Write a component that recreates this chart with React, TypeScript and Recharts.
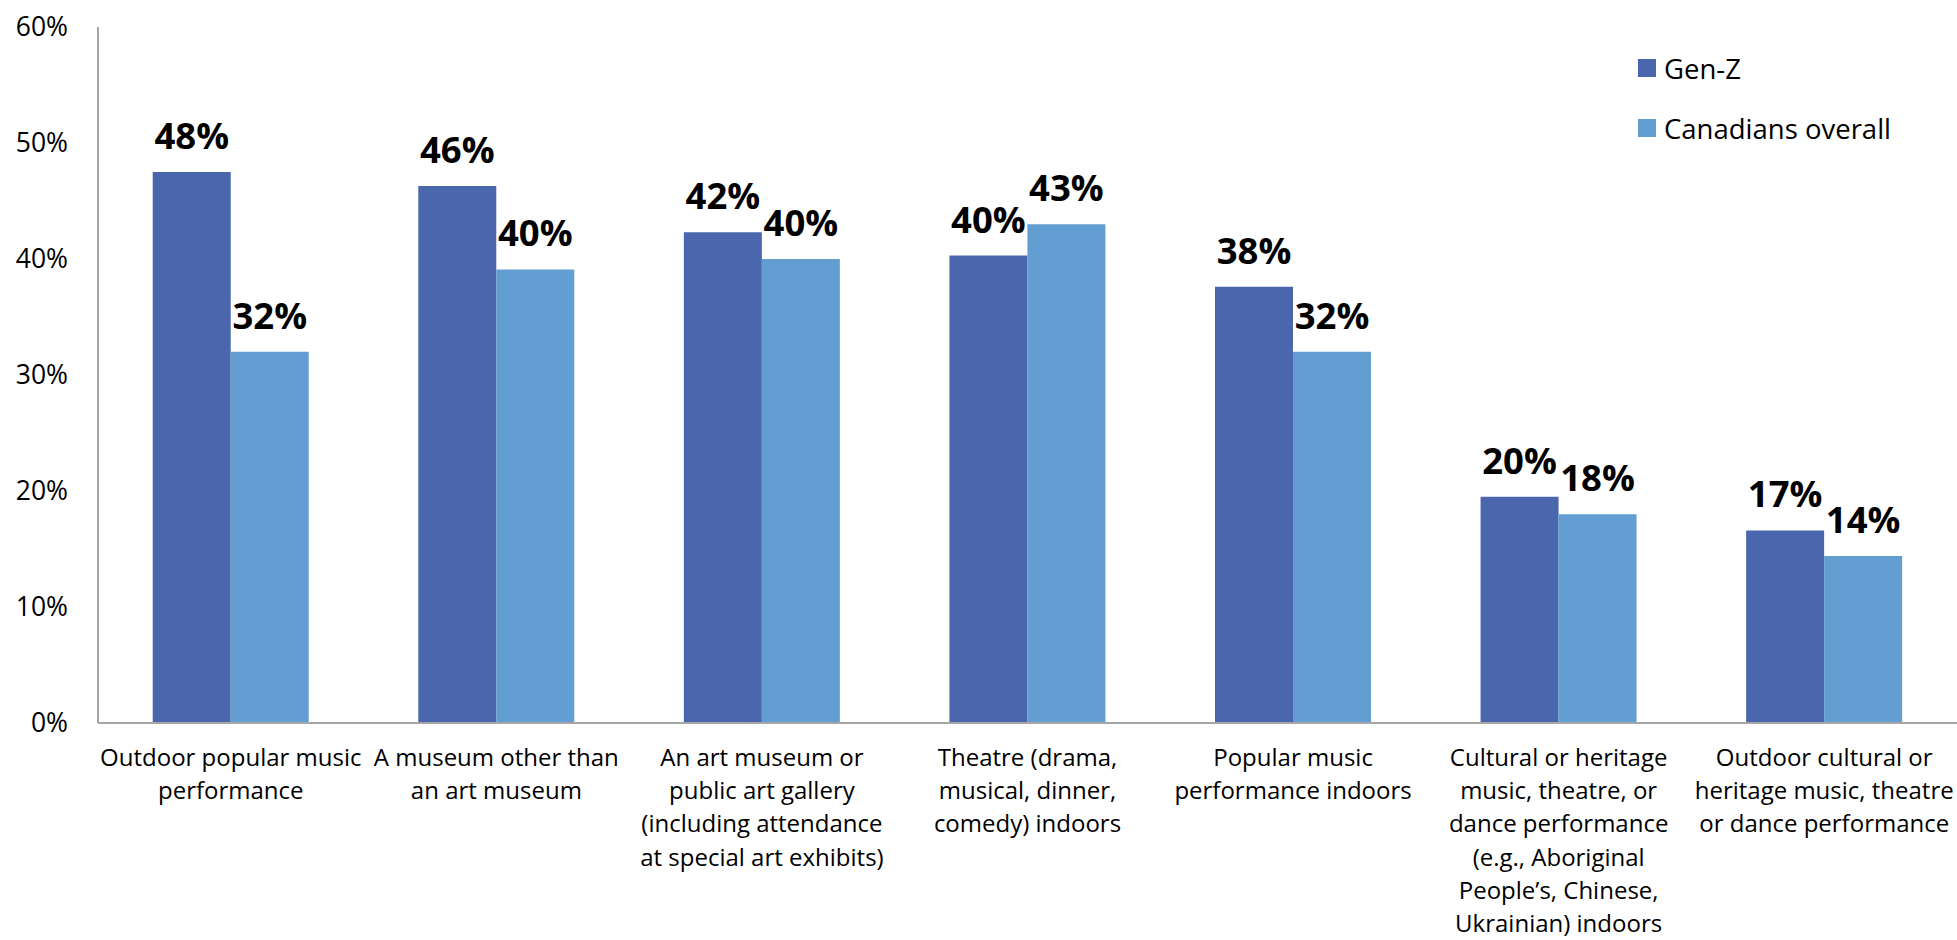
import { BarChart, Bar, XAxis, YAxis, LabelList, Legend } from 'recharts'

const categories = [
  'Outdoor popular music\nperformance',
  'A museum other than\nan art museum',
  'An art museum or\npublic art gallery\n(including attendance\nat special art exhibits)',
  'Theatre (drama,\nmusical, dinner,\ncomedy) indoors',
  'Popular music\nperformance indoors',
  'Cultural or heritage\nmusic, theatre, or\ndance performance\n(e.g., Aboriginal\nPeople’s, Chinese,\nUkrainian) indoors',
  'Outdoor cultural or\nheritage music, theatre\nor dance performance',
]

const seriesNames = ['Gen-Z', 'Canadians overall']
const genZ = [47.5, 46.3, 42.3, 40.3, 37.6, 19.5, 16.6]
const overall = [32.0, 39.1, 40.0, 43.0, 32.0, 18.0, 14.4]
const genZLabels = ['48%', '46%', '42%', '40%', '38%', '20%', '17%']
const overallLabels = ['32%', '40%', '40%', '43%', '32%', '18%', '14%']
const yTicks = [0, 10, 20, 30, 40, 50, 60]

const colors = ['#4A67AD', '#629ED2']
const font = '"Open Sans", "Noto Sans", sans-serif'

const data = categories.map((name, i) => ({
  name,
  genZ: genZ[i],
  overall: overall[i],
  genZLabel: genZLabels[i],
  overallLabel: overallLabels[i],
}))

function CategoryTick(props: { x?: number; y?: number; payload?: { value: string } }) {
  const { x = 0, y = 0, payload } = props
  const lines = (payload?.value ?? '').split('\n')
  return (
    <text x={x} y={y} textAnchor="middle" fontSize={24} fill="#000" fontFamily={font}>
      {lines.map((line, i) => (
        <tspan key={i} x={x} y={y + 43 + i * 33.2}>
          {line}
        </tspan>
      ))}
    </text>
  )
}

function LegendBox() {
  return (
    <div style={{ fontFamily: font, fontSize: 27.5, color: '#000' }}>
      {seriesNames.map((s, i) => (
        <div key={s} style={{ display: 'flex', alignItems: 'center', height: 60 }}>
          <span
            style={{ width: 18, height: 18, background: colors[i], display: 'inline-block', marginRight: 8 }}
          />
          <span>{s}</span>
        </div>
      ))}
    </div>
  )
}

export default function App() {
  return (
    <div style={{ position: 'absolute', left: 0, top: 0, fontFamily: font }}>
      <BarChart
        width={1957}
        height={940}
        data={data}
        margin={{ top: 27, right: 0, left: 0, bottom: 17 }}
        barCategoryGap="20.6%"
        barGap={0}
      >
        <XAxis
          dataKey="name"
          interval={0}
          tickLine={false}
          tickSize={0}
          tickMargin={0}
          axisLine={{ stroke: '#A6A6A6', strokeWidth: 2 }}
          height={200}
          tick={<CategoryTick />}
        />
        <YAxis
          domain={[0, 60]}
          ticks={yTicks}
          width={98}
          tickLine={false}
          tickSize={0}
          tickMargin={30}
          axisLine={{ stroke: '#A6A6A6', strokeWidth: 2 }}
          tickFormatter={(v) => `${v}%`}
          tick={{ fontSize: 26.5, fill: '#000', fontFamily: font }}
        />
        <Legend
          layout="horizontal"
          verticalAlign="middle"
          align="center"
          wrapperStyle={{ top: 38, left: 1638, width: 300, height: 120 }}
          content={() => <LegendBox />}
        />
        <Bar dataKey="genZ" name={seriesNames[0]} fill={colors[0]} isAnimationActive={false}>
          <LabelList
            dataKey="genZLabel"
            position="top"
            offset={23}
            fill="#000"
            fontSize={36.5}
            fontWeight={700}
            fontFamily={font}
          />
        </Bar>
        <Bar dataKey="overall" name={seriesNames[1]} fill={colors[1]} isAnimationActive={false}>
          <LabelList
            dataKey="overallLabel"
            position="top"
            offset={23}
            fill="#000"
            fontSize={36.5}
            fontWeight={700}
            fontFamily={font}
          />
        </Bar>
      </BarChart>
    </div>
  )
}
